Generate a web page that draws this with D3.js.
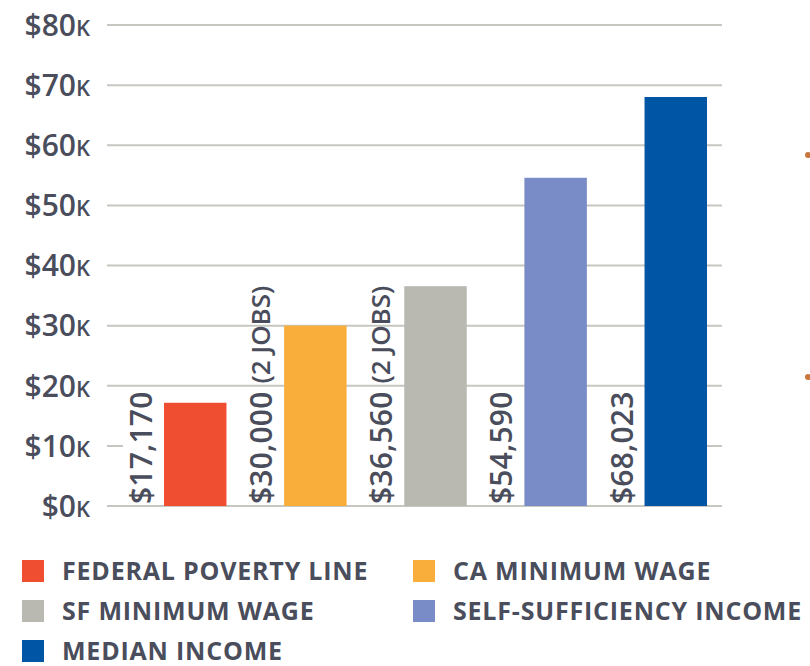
<!DOCTYPE html>
<html>
<head>
<meta charset="utf-8">
<script src="https://cdn.jsdelivr.net/npm/d3@7"></script>
<style>
  html, body { margin: 0; padding: 0; background: #fff; }
  svg { display: block; }
  text { font-family: "Open Sans", sans-serif; fill: #4a4d5b; }
</style>
</head>
<body>
<svg id="chart" width="810" height="666"></svg>
<script>
// Annual income benchmarks
const categories = ["FEDERAL POVERTY LINE", "CA MINIMUM WAGE", "SF MINIMUM WAGE", "SELF-SUFFICIENCY INCOME", "MEDIAN INCOME"];
const values = [17170, 30000, 36560, 54590, 68023];
const valueLabels = ["$17,170", "$30,000", "$36,560", "$54,590", "$68,023"];
const valueNotes = ["", "(2 JOBS)", "(2 JOBS)", "", ""];
const colors = ["#f04e31", "#f9ae3c", "#b9b9b1", "#798cc8", "#0055a5"];
const yTicks = [0, 10000, 20000, 30000, 40000, 50000, 60000, 70000, 80000];
const yTickLabels = ["$0", "$10", "$20", "$30", "$40", "$50", "$60", "$70", "$80"];

const svg = d3.select("#chart");

const y = d3.scaleLinear().domain([0, 80000]).range([506, 25]);
const x = d3.scaleBand().domain(categories).range([164, 707]).paddingInner(0.48);
const gridX = [107, 722];

// gridlines
const grid = svg.append("g");
grid.selectAll("line").data(yTicks).join("line")
  .attr("x1", gridX[0]).attr("x2", gridX[1])
  .attr("y1", d => y(d)).attr("y2", d => y(d))
  .attr("stroke", "#c6c7c0").attr("stroke-width", 2)
  .attr("stroke-dasharray", d => d === 10000 ? `16,${gridX[1] - gridX[0] - 32},16` : null);

// y-axis labels with small-cap K
const yl = svg.append("g").selectAll("text").data(yTicks).join("text")
  .attr("x", 90).attr("y", d => y(d)).attr("dy", "0.36em")
  .attr("text-anchor", "end").style("font-size", "30px").style("font-weight", "600");
yl.append("tspan").text((d, i) => yTickLabels[i]);
yl.append("tspan").text("K").style("font-size", "22px");

// bars
svg.append("g").selectAll("rect").data(values).join("rect")
  .attr("x", (d, i) => x(categories[i]))
  .attr("width", x.bandwidth())
  .attr("y", d => y(d))
  .attr("height", d => y(0) - y(d))
  .attr("fill", (d, i) => colors[i]);

// rotated value labels
const vl = svg.append("g").selectAll("text").data(values).join("text")
  .attr("transform", (d, i) => `translate(${x(categories[i]) - 24},${y(0) - 2}) rotate(-90)`)
  .attr("dominant-baseline", "central")
  .style("font-size", "30px").style("font-weight", "600").style("letter-spacing", "0.2px");
vl.append("tspan").text((d, i) => valueLabels[i]);
vl.append("tspan").attr("dx", 8).style("font-size", "26px").style("letter-spacing", "0px")
  .text((d, i) => valueNotes[i]);

// bullet marks at right edge
svg.append("g").selectAll("circle").data([155, 377]).join("circle")
  .attr("cx", 808).attr("cy", d => d).attr("r", 3).attr("fill", "#c9773e");

// legend
const legendPos = [[22, 560], [413, 560], [22, 600], [413, 600], [22, 640]];
const lg = svg.append("g").selectAll("g").data(categories).join("g")
  .attr("transform", (d, i) => `translate(${legendPos[i][0]},${legendPos[i][1]})`);
lg.append("rect").attr("width", 22).attr("height", 22).attr("fill", (d, i) => colors[i]);
lg.append("text").attr("x", 40).attr("y", 11).attr("dy", "0.35em")
  .style("font-size", "25px").style("font-weight", "700").style("letter-spacing", "0.8px")
  .text(d => d);
</script>
</body>
</html>
